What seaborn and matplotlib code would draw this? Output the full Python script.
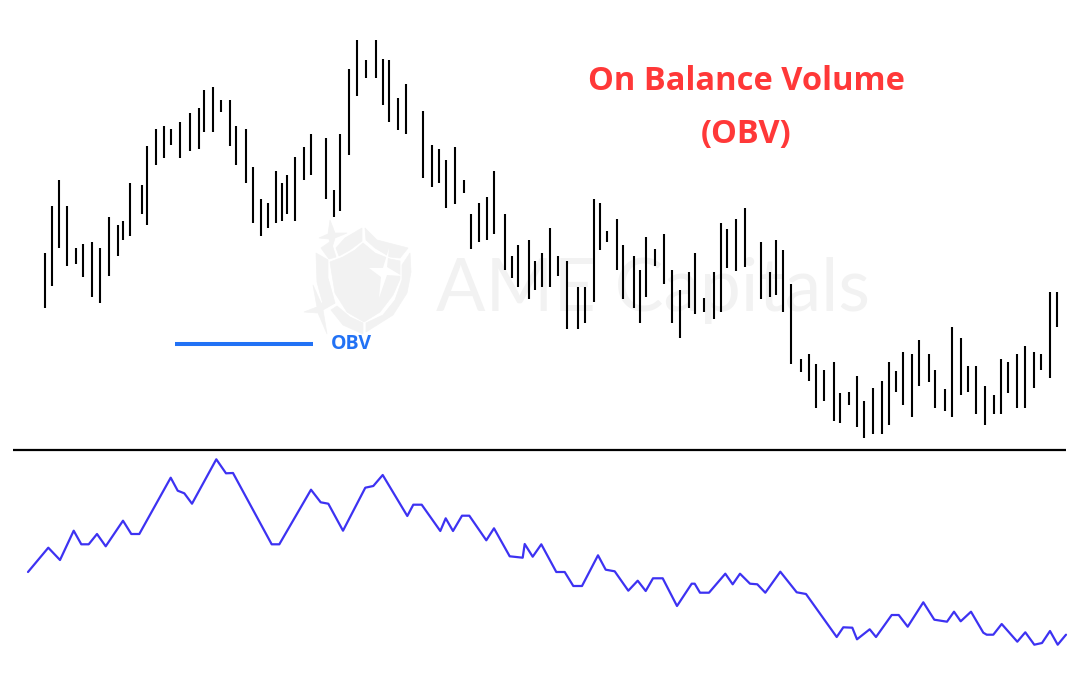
import numpy as np
import pandas as pd
import seaborn as sns
import matplotlib.pyplot as plt
from matplotlib.patches import Polygon

bar_x = [45.3, 52, 59, 66.7, 75.7, 82.7, 92, 100.3, 109, 118.3, 123.3, 130.3, 142, 147.3, 156.3, 164, 171.3,
         180.3, 190, 198.7, 204.3, 213.3, 220.7, 230, 236, 245.7, 253, 260.7, 267.7, 275.7, 281.7, 287, 294.7,
         304, 311, 325.7, 333.7, 340.3, 349.3, 357.3, 366, 376, 383.3, 388.7, 398, 406.3, 422.7, 432, 438.7,
         446.3, 455, 464, 471, 479.3, 487.3, 494.3, 504.7, 512.3, 518.3, 528.7, 534.7, 542, 550, 558.3, 567.3,
         577.7, 585.3, 593.7, 599.7, 607.3, 617, 622.7, 633.7, 639.7, 645.7, 655, 664.3, 671.7, 680, 688.7,
         694.7, 704, 714, 721, 727.3, 736, 744.7, 761, 770, 776, 783, 791, 800.7, 809.3, 816, 823.7, 833.7,
         840.3, 849.3, 856.7, 864.3, 873.3, 881.7, 889.3, 896.3, 902.7, 911.7, 919.3, 928.7, 935.3, 945.3,
         952.3, 960.7, 968.3, 975.7, 985, 994.3, 1000.7, 1008.3, 1016.7, 1025, 1033.7, 1041, 1050, 1057.3]
bar_high = [253.3, 206, 180.3, 206, 247.7, 244.3, 242, 247.7, 216.7, 225, 221, 183.3, 185, 146, 129.3, 126.3, 129.3,
            121.7, 113.3, 108.3, 90.3, 87, 100.3, 100.3, 126.3, 129.3, 167.3, 199.3, 203.3, 171, 183.3, 175.3, 156.7,
            147, 133.7, 138.3, 190.3, 133.7, 68.7, 40.3, 60.3, 40.3, 59.3, 60.3, 98.3, 83.7, 111.3, 145.3, 148.7,
            159.7, 147, 180.3, 214, 203.3, 197, 171, 214, 255.7, 244.7, 240.3, 261.3, 253.3, 227.7, 255.7, 261.3,
            286.7, 286.7, 199.3, 203.3, 231.3, 218.7, 244.7, 255.7, 270.3, 236.7, 249, 233.7, 270.3, 290, 271.7,
            253.3, 298.3, 271.7, 223, 229.3, 218.7, 207.7, 242.3, 271.7, 240.3, 250.3, 283.7, 359.3, 354.3, 364.3, 370, 362.3,
            392.7, 392.3, 376.3, 401, 388.3, 381, 362.3, 371.3, 352.3, 354.3, 340.3, 354.3, 370, 389,
            326.7, 338, 366.3, 366.3, 386.3, 394.7, 359.3, 362.3, 354.3, 345.7, 352.3, 354.3, 292.3, 292.3]
bar_low = [308.3, 286, 247.7, 266, 264, 276.7, 297.3, 303, 275.7, 255.7, 240.3, 236.3, 214, 225, 164.7, 158, 144.7,
           158, 151.3, 148.7, 132.3, 132.3, 111.7, 146, 164.7, 183.3, 223.3, 236.3, 227.7, 223.3, 221, 214, 221,
           180.3, 175.3, 199.3, 216.7, 211.3, 154.7, 95.7, 78.3, 78.3, 105.3, 121.7, 129.7, 133.7, 178, 187.3, 183.3,
           207.7, 203.7, 193, 249, 242.3, 240.3, 233.7, 270.3, 277.7, 286.7, 298.7, 290, 286.7, 286.7, 275.7, 329,
           329, 322.7, 301.7, 250.3, 242.3, 270.3, 298.7, 307.7, 322.7, 296.7, 265.7, 283.7, 322.7, 338.3, 307.7,
           314.3, 312.3, 318.7, 312.3, 267.7, 270.7, 266.7, 298.7, 296.7, 295.3, 312.3, 364.3, 371.7, 381, 408.3, 401.3, 420.7,
           423, 405, 427.3, 437.7, 433.7, 433.7, 425, 391.7, 405, 416.7, 386.3, 381.7, 408.3, 411,
           416.7, 395, 391.7, 414.3, 425, 414.3, 414.3, 392.7, 408.3, 408.3, 388.3, 370, 377.7, 326.7]

obv_x = [28, 48.3, 60, 73.7, 81.3, 88.7, 97, 105.7, 123, 131.3, 139.3, 170.7, 177.7, 184.3, 192, 216.3, 226, 233,
         271.7, 279.3, 311, 320.7, 328.3, 343, 365.3, 373.3, 382.7, 407.3, 413.3, 421.7, 440.3, 445.7, 453, 462,
         469.3, 486.3, 494, 509.7, 522.7, 524.7, 532.7, 541.3, 556.3, 564.7, 573.3, 582, 598, 605.7, 614.7, 628.3,
         637.7, 645.7, 653, 662.7, 677, 691.7, 694.7, 700, 709, 725.3, 732.7, 740, 750, 757.3, 765.3, 780.3, 796.7,
         806, 836.7, 843.3, 852.3, 857, 869.7, 876, 891.7, 898.7, 907.7, 923.3, 934.3, 947, 954, 960.7, 971, 983.3,
         986.7, 993.3, 1001.7, 1017.3, 1025.3, 1034.3, 1042, 1050, 1057.7, 1066]
obv_y = [572, 547.7, 560, 530.7, 544.3, 544.3, 534, 546.3, 520.7, 534, 534, 477.7, 490.7, 493.3, 503.7, 459.3, 473.3, 473,
         544.3, 544.3, 489.7, 502.3, 503.7, 530.7, 487.7, 486, 475, 516, 504.7, 504.7, 531, 518.3, 531, 515.7,
         515.7, 540.3, 528.3, 556.3, 557.7, 544, 556.7, 544.3, 572, 572, 586, 586, 555.3, 569.7, 571.3, 590.7,
         580.7, 591, 578.3, 578.3, 606, 583.7, 583.7, 592.7, 592.7, 573.7, 584.3, 573.7, 583.7, 584.3, 592.7, 571.7, 592.3,
         594, 637, 627.3, 627.7, 639.3, 629.3, 637, 615, 615, 626.7, 602.3, 619.7, 621.7, 611.7, 621.3, 611.7, 632.7,
         634.7, 634.7, 624, 641.7, 632.3, 644.7, 643, 631, 644.7, 634.7]

# watermark shield pieces
shield_inner = [(363, 243), (375, 253), (390, 259), (400, 261), (400, 279), (393, 295), (380, 312), (364, 322), (347, 312), (335, 293), (330, 262), (343, 257), (355, 250)]
shield_left = [(316, 253), (328, 260), (328, 278), (335, 303), (324, 308), (317, 282)]
shield_top_panel = [(321, 248), (331, 241), (336, 257), (329, 259)]
shield_bottom_l = [(331, 310), (337, 306), (350, 317), (363, 323), (363, 334), (343, 325)]
shield_bottom_r = [(366, 323), (383, 315), (395, 300), (402, 280), (402, 265), (410, 253), (411, 272), (407, 293), (393, 315), (366, 332)]
shield_top_l = [(362, 228), (362, 241), (350, 250), (339, 256), (336, 248), (345, 238)]
shield_top_r = [(365, 228), (377, 240), (408, 248), (400, 258), (390, 257), (375, 248), (366, 240)]
star_left = [(330, 220), (335, 233), (347, 233), (335, 238), (332, 248), (329, 239), (319, 238), (328, 234)]
star_low = [(313, 285), (321, 303), (335, 303), (323, 310), (327, 334), (318, 313), (304, 312), (317, 307)]
star_white = [(389, 248), (387, 267), (402, 276), (387, 275), (379, 298), (381, 277), (369, 268), (383, 268)]

LINE_BLUE = '#3d32f2'
LEGEND_BLUE = '#2272f5'
TITLE_RED = '#ff3838'
MARK_GREY = '#f2f2f2'

sns.set_style("white")
plt.rcParams['font.family'] = ['Lato', 'DejaVu Sans']

fig = plt.figure(figsize=[10.78, 6.75], dpi=100)
ax = fig.add_axes([0, 0, 1, 1])

# faint logo behind the chart
for pts in [shield_inner, shield_left, shield_top_panel, shield_bottom_l, shield_bottom_r,
            shield_top_l, shield_top_r, star_left, star_low]:
    ax.add_patch(Polygon(pts, closed=True, fc=MARK_GREY, ec=MARK_GREY, lw=0.5, zorder=0))
ax.add_patch(Polygon(star_white, closed=True, fc='white', ec='none', zorder=0.5))
ax.text(652.5, 291, 'AME Capitals', fontsize=52.7, color=MARK_GREY, ha='center', va='center', zorder=0.5)

bars = pd.DataFrame({'bar': np.tile(np.arange(len(bar_x)), 2),
                     'x': bar_x + bar_x,
                     'price': bar_high + bar_low})
sns.lineplot(data=bars, x='x', y='price', units='bar', estimator=None, color='black',
             linewidth=1.5, solid_capstyle='butt', ax=ax, zorder=2)

obv = pd.DataFrame({'x': obv_x, 'obv': obv_y})
sns.lineplot(data=obv, x='x', y='obv', estimator=None, sort=False, color=LINE_BLUE,
             linewidth=1.6, ax=ax, zorder=2)

ax.plot([13, 1066], [449.7, 449.7], color='black', lw=1.6, solid_capstyle='butt')
ax.plot([175, 313], [344, 344], color=LEGEND_BLUE, lw=2.9, solid_capstyle='butt')
ax.text(331, 344, 'OBV', fontsize=14, fontweight='bold', family=['Open Sans', 'DejaVu Sans'],
        color=LEGEND_BLUE, ha='left', va='center')

title_font = ['Open Sans', 'DejaVu Sans']
ax.text(746, 81, 'On Balance Volume', fontsize=23.5, fontweight='bold', family=title_font,
        color=TITLE_RED, ha='center', va='center')
ax.text(746, 134, '(OBV)', fontsize=23.5, fontweight='bold', family=title_font,
        color=TITLE_RED, ha='center', va='center')

ax.set_xlim(0, 1078)
ax.set_ylim(675, 0)
ax.axis('off')
fig.savefig('out.png', dpi=100)
